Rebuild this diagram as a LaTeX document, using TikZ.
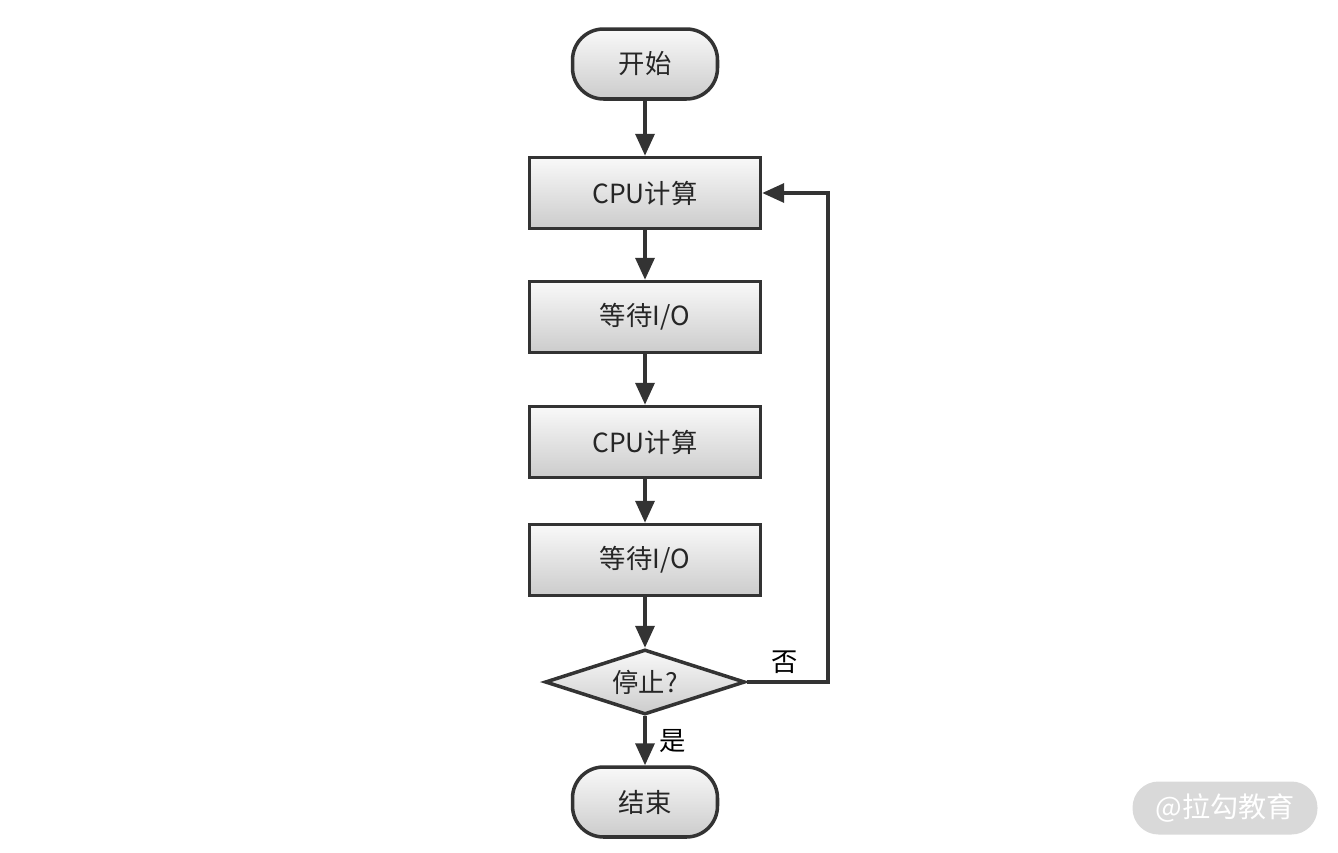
\documentclass[tikz,border=0pt]{standalone}
\usepackage{fontspec}
\setmainfont{Noto Sans CJK SC}
\usepackage{tikz}
\usetikzlibrary{shapes, arrows.meta, positioning, calc}
\definecolor{edge}{rgb}{0.2,0.2,0.2}
\definecolor{mark}{rgb}{0.85,0.85,0.85}

\tikzset{
  proc/.style={draw=edge, line width=2pt, rectangle, minimum width=4.62cm, minimum height=1.42cm,
    top color=gray!5, bottom color=gray!40, font=\fontsize{15}{18}\selectfont, text=black!85},
  term/.style={proc, rounded corners=0.62cm, minimum width=2.9cm, minimum height=1.4cm},
  decide/.style={proc, diamond, aspect=3.1, minimum width=4.0cm, minimum height=1.3cm, inner sep=0pt},
  flow/.style={draw=edge, line width=2pt, -{Triangle[length=0.44cm, width=0.38cm]}}
}

\begin{document}
\begin{tikzpicture}[x=0.02cm, y=-0.02cm]
      \useasboundingbox (0,0) rectangle (1338,852);
      \node[term] (start) at (645,64) {开始};
      \node[proc] (cpuA) at (645,193) {CPU计算};
      \node[proc] (ioA) at (645,317) {等待I/O};
      \node[proc] (cpuB) at (645,442) {CPU计算};
      \node[proc] (ioB) at (645,560) {等待I/O};
      \node[decide] (stop) at (645,682) {停止?};
      \node[term] (end) at (645,802) {结束};
      \coordinate (back) at (828,682);

      \draw[flow] (start) -- (cpuA);
      \draw[flow] (cpuA) -- (ioA);
      \draw[flow] (ioA) -- (cpuB);
      \draw[flow] (cpuB) -- (ioB);
      \draw[flow] (ioB) -- (stop);
      \draw[flow] (stop) -- node[right=4pt, font=\fontsize{15}{18}\selectfont] {是} (end);
      \draw[flow] (stop.east) -- (back) |- (cpuA.east);
      \node[font=\fontsize{15}{18}\selectfont] (no) at (785,662) {否};

      % watermark
      \node[fill=mark, rounded corners=0.52cm, minimum width=3.7cm, minimum height=1.06cm,
        text=white, font=\fontsize{16}{19}\selectfont] (wm) at (1225,808) {@拉勾教育};
    \end{tikzpicture}
\end{document}
